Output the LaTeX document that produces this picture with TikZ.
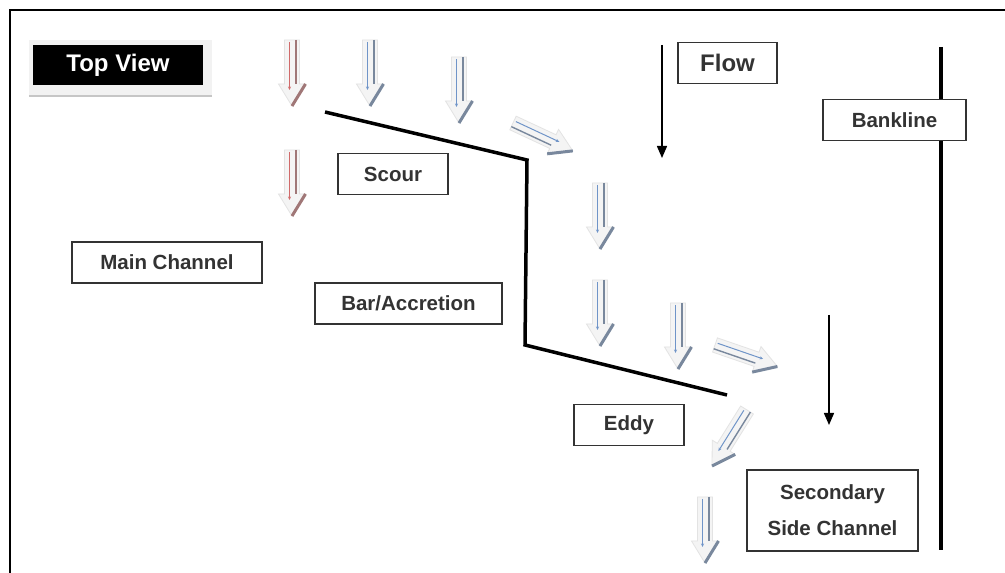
\documentclass[tikz,border=0pt]{standalone}
\usepackage{fontspec}
\setmainfont{Liberation Sans}
\usepackage{xcolor}
\usepackage{tikz}
\usetikzlibrary{arrows.meta,calc,backgrounds}

\definecolor{waterblue}{HTML}{6F94C8}
\definecolor{waterred}{HTML}{D06A6A}

\begin{document}
\begin{tikzpicture}[
        x=1pt, y=1pt,
        every node/.style={font=\fontsize{20.5}{36}\selectfont\bfseries, text=black!80},
        tag/.style={
            draw=black!80,
            line width=1.3pt,
            fill=white,
            align=center,
            inner sep=0pt,
            minimum height=41pt
        },
        titlebox/.style={
            fill=black,
            text=white,
            inner sep=0pt,
            minimum width=170pt,
            minimum height=40pt,
            font=\fontsize{24}{28}\selectfont\bfseries
        },
        flowline/.style={-{Triangle[length=12pt,width=10pt]}, line width=1.5pt},
        bank/.style={line width=4pt},
        channel/.style={line width=3.5pt},
        flowarrow/.pic={
            \path[fill=gray!9, draw=gray!22, line width=0.8pt]
                (0,-7.5) -- (44,-7.5) -- (44,-13.5) -- (66,0) -- (44,13.5) -- (44,7.5) -- (0,7.5) -- cycle;
            \draw[#1, line width=1pt, -{Stealth[length=3.5pt,width=3pt]}] (2,-2.5) -- (50,-2.5);
            \draw[#1!40!gray, line width=1.4pt] (0,4) -- (44,4);
            \draw[#1!40!gray, line width=3pt] (44,13.5) -- (66,0);
        }
    ]
        \useasboundingbox (0,0) rectangle (1005,573);

        % Frame
        \draw[line width=2.5pt] (10,0) -- (10,563) -- (1005,563);

        % Channel edge and bankline
        \draw[channel] (325,461) -- (527,413) -- (525,228) -- (727,178);
        \coordinate (banktop) at (941,526);
        \coordinate (bankend) at (941,23);
        \draw[bank] (banktop) -- (bankend);

        % Flow arrows
        \pic[rotate=-90] at (292,533) {flowarrow=waterred};
        \pic[rotate=-90] at (370,533) {flowarrow=waterblue};
        \pic[rotate=-90] at (459,516) {flowarrow=waterblue};
        \pic[rotate=-25, yscale=-1] at (513,450) {flowarrow=waterblue};
        \pic[rotate=-90] at (292,423) {flowarrow=waterred};
        \pic[rotate=-90] at (600,390) {flowarrow=waterblue};
        \pic[rotate=-90] at (600,293) {flowarrow=waterblue};
        \pic[rotate=-90] at (678,270) {flowarrow=waterblue};
        \pic[rotate=-19, yscale=-1] at (715,228) {flowarrow=waterblue};
        \pic[rotate=-122] at (747,163) {flowarrow=waterblue};
        \pic[rotate=-90] at (705,76) {flowarrow=waterblue};

        % Labels
        \node[titlebox] (topview) at (118,508) {Top View};
        \node[tag, minimum width=99pt, font=\fontsize{24}{28}\selectfont\bfseries] (flow) at (727.5,510) {Flow};
        \node[tag, minimum width=143pt] (bankline) at (894.5,453) {Bankline};
        \node[tag, minimum width=110pt] (scour) at (393,399) {Scour};
        \node[tag, minimum width=190pt] (mainch) at (167,310.5) {Main Channel};
        \node[tag, minimum width=187pt] (bar) at (408.5,269.5) {Bar/Accretion};
        \node[tag, minimum width=110pt] (eddy) at (629,148) {Eddy};
        \node[tag, minimum width=171pt, minimum height=81pt] (sidech) at (832.5,62.5) {Secondary\\Side Channel};

        % Direction of flow
        \coordinate (flowtop) at (662,528);
        \coordinate (flowend) at (662,415);
        \coordinate (sidetop) at (829,258);
        \coordinate (sideend) at (829,148);
        \draw[flowline] (flowtop) -- (flowend);
        \draw[flowline] (sidetop) -- (sideend);

        % Title plate
        \begin{scope}[on background layer]
            \fill[white] (0,0) rectangle (1005,573);
            \fill[gray!10] ($(topview.south west)+(-4,-12)$) rectangle ($(topview.north east)+(9,5)$);
            \draw[gray!45, line width=2pt] ($(topview.south west)+(-4,-11)$) -- ($(topview.south east)+(9,-11)$);
        \end{scope}

    \end{tikzpicture}
\end{document}
